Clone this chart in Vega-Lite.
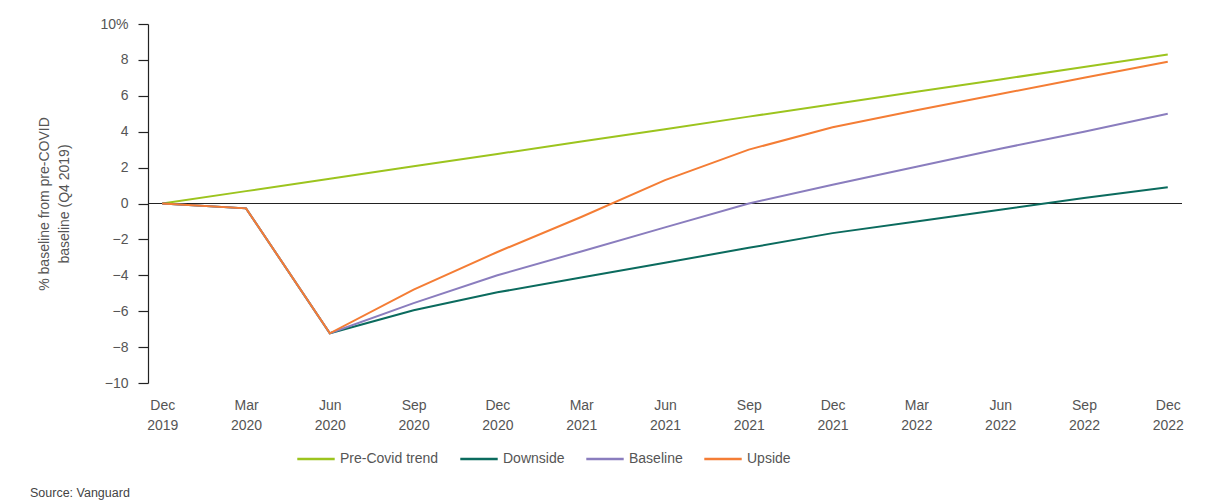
{
  "$schema": "https://vega.github.io/schema/vega-lite/v6.json",
  "width": 1034,
  "height": 359,
  "autosize": "none",
  "padding": {"left": 148, "top": 24, "right": 34, "bottom": 121},
  "background": "white",
  "config": {
    "view": {"stroke": null},
    "font": "Liberation Sans",
    "axis": {"labelFont": "Liberation Sans", "titleFont": "Liberation Sans"},
    "legend": {"labelFont": "Liberation Sans"}
  },
  "title": {
    "text": "Source: Vanguard",
    "orient": "bottom",
    "anchor": "start",
    "frame": "group",
    "dx": -118,
    "offset": 21,
    "fontSize": 12.5,
    "fontWeight": "normal",
    "color": "#444",
    "font": "Liberation Sans"
  },
  "data": {
    "values": [
      {"q": "Dec 2019", "s": "Pre-Covid trend", "v": 0},
      {"q": "Mar 2020", "s": "Pre-Covid trend", "v": 0.69},
      {"q": "Jun 2020", "s": "Pre-Covid trend", "v": 1.38},
      {"q": "Sep 2020", "s": "Pre-Covid trend", "v": 2.07},
      {"q": "Dec 2020", "s": "Pre-Covid trend", "v": 2.76},
      {"q": "Mar 2021", "s": "Pre-Covid trend", "v": 3.45},
      {"q": "Jun 2021", "s": "Pre-Covid trend", "v": 4.14},
      {"q": "Sep 2021", "s": "Pre-Covid trend", "v": 4.84},
      {"q": "Dec 2021", "s": "Pre-Covid trend", "v": 5.53},
      {"q": "Mar 2022", "s": "Pre-Covid trend", "v": 6.22},
      {"q": "Jun 2022", "s": "Pre-Covid trend", "v": 6.91},
      {"q": "Sep 2022", "s": "Pre-Covid trend", "v": 7.6},
      {"q": "Dec 2022", "s": "Pre-Covid trend", "v": 8.3},
      {"q": "Dec 2019", "s": "Downside", "v": 0},
      {"q": "Mar 2020", "s": "Downside", "v": -0.27},
      {"q": "Jun 2020", "s": "Downside", "v": -7.23},
      {"q": "Sep 2020", "s": "Downside", "v": -5.95},
      {"q": "Dec 2020", "s": "Downside", "v": -4.95},
      {"q": "Mar 2021", "s": "Downside", "v": -4.12},
      {"q": "Jun 2021", "s": "Downside", "v": -3.3},
      {"q": "Sep 2021", "s": "Downside", "v": -2.47},
      {"q": "Dec 2021", "s": "Downside", "v": -1.65},
      {"q": "Mar 2022", "s": "Downside", "v": -1.0},
      {"q": "Jun 2022", "s": "Downside", "v": -0.35},
      {"q": "Sep 2022", "s": "Downside", "v": 0.3},
      {"q": "Dec 2022", "s": "Downside", "v": 0.9},
      {"q": "Dec 2019", "s": "Baseline", "v": 0},
      {"q": "Mar 2020", "s": "Baseline", "v": -0.27},
      {"q": "Jun 2020", "s": "Baseline", "v": -7.23},
      {"q": "Sep 2020", "s": "Baseline", "v": -5.55},
      {"q": "Dec 2020", "s": "Baseline", "v": -4.0},
      {"q": "Mar 2021", "s": "Baseline", "v": -2.67},
      {"q": "Jun 2021", "s": "Baseline", "v": -1.33},
      {"q": "Sep 2021", "s": "Baseline", "v": 0},
      {"q": "Dec 2021", "s": "Baseline", "v": 1.05},
      {"q": "Mar 2022", "s": "Baseline", "v": 2.05},
      {"q": "Jun 2022", "s": "Baseline", "v": 3.05},
      {"q": "Sep 2022", "s": "Baseline", "v": 4.0},
      {"q": "Dec 2022", "s": "Baseline", "v": 5.0},
      {"q": "Dec 2019", "s": "Upside", "v": 0},
      {"q": "Mar 2020", "s": "Upside", "v": -0.27},
      {"q": "Jun 2020", "s": "Upside", "v": -7.23},
      {"q": "Sep 2020", "s": "Upside", "v": -4.8},
      {"q": "Dec 2020", "s": "Upside", "v": -2.7},
      {"q": "Mar 2021", "s": "Upside", "v": -0.75},
      {"q": "Jun 2021", "s": "Upside", "v": 1.3},
      {"q": "Sep 2021", "s": "Upside", "v": 3.0},
      {"q": "Dec 2021", "s": "Upside", "v": 4.25},
      {"q": "Mar 2022", "s": "Upside", "v": 5.2},
      {"q": "Jun 2022", "s": "Upside", "v": 6.1},
      {"q": "Sep 2022", "s": "Upside", "v": 7.0},
      {"q": "Dec 2022", "s": "Upside", "v": 7.9}
    ]
  },
  "layer": [
    {
      "mark": {"type": "rule", "color": "#222", "strokeWidth": 1},
      "encoding": {
        "y": {
          "datum": 0,
          "type": "quantitative",
          "scale": {"domain": [-10, 10], "nice": false},
          "axis": {
            "values": [-10, -8, -6, -4, -2, 0, 2, 4, 6, 8, 10],
            "labelOverlap": false,
            "grid": false,
            "domainColor": "#222",
            "domainWidth": 1.2,
            "tickColor": "#222",
            "tickWidth": 1.2,
            "tickSize": 10,
            "labelPadding": 10,
            "labelFontSize": 14,
            "labelColor": "#555",
            "labelExpr": "datum.value == 10 ? '10%' : replace(format(datum.value, 'd'), '-', '\u2013')",
            "title": ["% baseline from pre-COVID", "baseline (Q4 2019)"],
            "titleFontSize": 14,
            "titleFontWeight": "normal",
            "titleColor": "#555",
            "titlePadding": 28,
            "titleLineHeight": 20
          }
        }
      }
    },
    {
      "mark": {"type": "line", "strokeWidth": 2, "interpolate": "linear"},
      "encoding": {
        "x": {
          "field": "q",
          "type": "ordinal",
          "sort": null,
          "scale": {"type": "point", "padding": 0.17},
          "axis": {
            "title": null,
            "domain": false,
            "ticks": false,
            "labelAngle": 0,
            "labelPadding": 15,
            "labelFontSize": 14,
            "labelColor": "#555",
            "labelLineHeight": 20,
            "labelExpr": "split(datum.label, ' ')"
          }
        },
        "y": {
          "field": "v",
          "type": "quantitative",
          "scale": {"domain": [-10, 10], "nice": false},
          "axis": {
            "values": [-10, -8, -6, -4, -2, 0, 2, 4, 6, 8, 10],
            "labelOverlap": false,
            "grid": false,
            "domainColor": "#222",
            "domainWidth": 1.2,
            "tickColor": "#222",
            "tickWidth": 1.2,
            "tickSize": 10,
            "labelPadding": 10,
            "labelFontSize": 14,
            "labelColor": "#555",
            "labelExpr": "datum.value == 10 ? '10%' : replace(format(datum.value, 'd'), '-', '\u2013')",
            "title": ["% baseline from pre-COVID", "baseline (Q4 2019)"],
            "titleFontSize": 14,
            "titleFontWeight": "normal",
            "titleColor": "#555",
            "titlePadding": 28,
            "titleLineHeight": 20
          }
        },
        "color": {
          "field": "s",
          "type": "nominal",
          "sort": ["Pre-Covid trend", "Downside", "Baseline", "Upside"],
          "scale": {
            "domain": ["Pre-Covid trend", "Downside", "Baseline", "Upside"],
            "range": ["#9CC41E", "#0B6B5E", "#8A7DBE", "#F47D35"]
          },
          "legend": {
            "title": null,
            "orient": "none",
            "direction": "horizontal",
            "legendX": 148,
            "legendY": 415,
            "symbolType": "stroke",
            "symbolSize": 1400,
            "symbolStrokeWidth": 2.5,
            "labelFontSize": 14,
            "labelColor": "#555",
            "labelOffset": 4,
            "columnPadding": 16
          }
        }
      }
    }
  ]
}
